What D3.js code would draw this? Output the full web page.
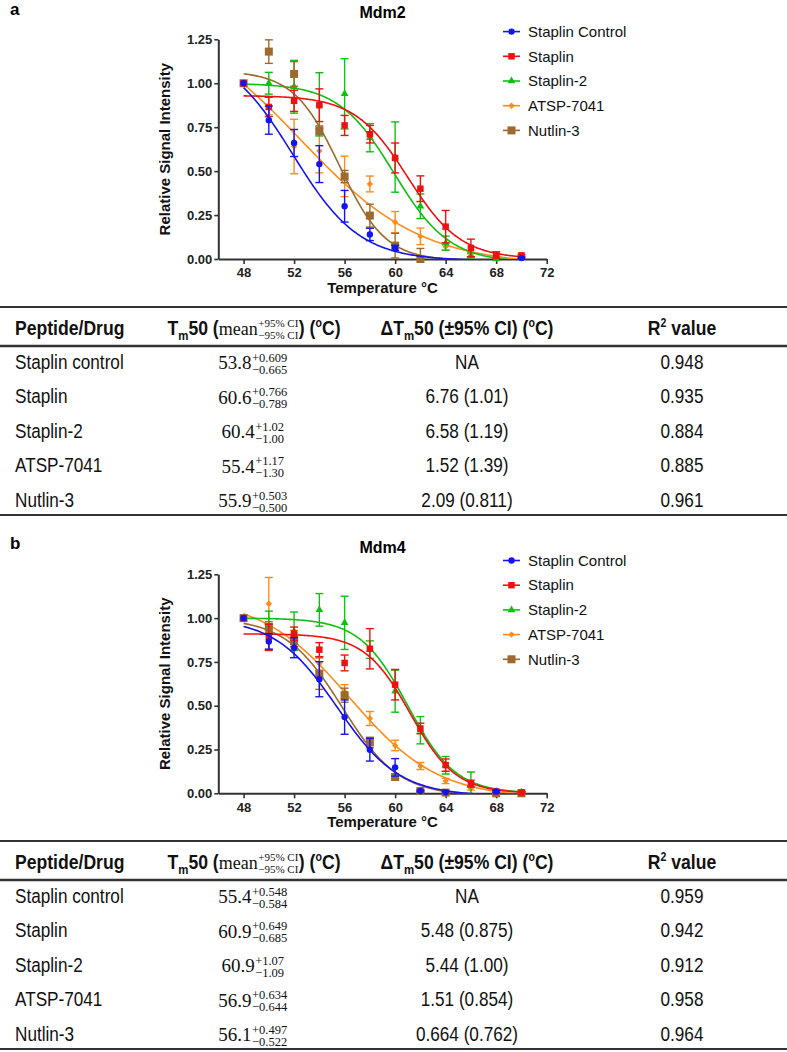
<!DOCTYPE html>
<html><head><meta charset="utf-8">
<script src="https://cdn.jsdelivr.net/npm/d3@7"></script>
<style>
body{margin:0;background:#fff;}
</style></head><body>
<svg id="fig" width="787" height="1052" font-family="Arial, 'Liberation Sans', sans-serif"></svg>
<script>
// ---------- DATA ----------
const temps = [48,50,52,54,56,58,60,62,64,66,68,70];
const seriesNames = ["Staplin Control","Staplin","Staplin-2","ATSP-7041","Nutlin-3"];
const seriesColors = ["#1414f0","#f01010","#10c010","#ff8c1a","#9c6a2e"];
const seriesShapes = ["circle","squareS","triangle","diamond","squareL"];
const drawOrder = [3,2,4,1,0];
const yTicks = [0,0.25,0.5,0.75,1.0,1.25];
const xTicks = [48,52,56,60,64,68,72];

// Mdm2 (panel a): mean and error per temperature (null = not shown)
const mdm2Control   = [1.00,0.79,0.66,0.54,0.30,0.14,0.063,null,null,null,null,0.005];
const mdm2ControlE  = [0,0.08,0.077,0.105,0.09,0.035,0.015,null,null,null,null,0.005];
const mdm2Staplin   = [1.00,0.865,0.90,0.875,0.76,0.71,0.575,0.40,0.184,0.063,0.021,0.021];
const mdm2StaplinE  = [0,0.055,0.06,0.093,0.057,0.05,0.085,0.073,0.092,0.05,0.02,0.005];
const mdm2Staplin2  = [1.00,1.00,0.98,0.88,0.94,0.69,0.58,0.30,0.09,0.015,0.0,null];
const mdm2Staplin2E = [0,0.062,0.15,0.18,0.2,0.08,0.2,0.07,0.04,0.02,0.01,null];
const mdm2ATSP      = [1.00,0.87,0.64,0.615,0.47,0.427,0.21,0.129,0.07,0.02,0.006,null];
const mdm2ATSPE     = [0,0.05,0.155,0.125,0.115,0.045,0.06,0.047,0.02,0.01,0.01,null];
const mdm2Nutlin    = [1.00,1.18,1.053,0.732,0.469,0.247,0.076,0.0,null,null,null,null];
const mdm2NutlinE   = [0,0.067,0.07,0.025,0.035,0.065,0.07,0.06,null,null,null,null];
// fitted Boltzmann parameters [top, bottom, midpoint, slope] per series
const mdm2FitTop    = [1.2,0.93,1.0,1.4,1.07];
const mdm2FitBottom = [-0.01,0,-0.02,-0.04,-0.01];
const mdm2FitMid    = [51.9,61.0,59.9,52.5,55.6];
const mdm2FitSlope  = [2.64,2.1,2.2,4.8,1.82];

// Mdm4 (panel b)
const mdm4Control   = [1.00,0.867,0.831,0.651,0.435,0.249,0.148,0.013,0.006,null,0.01,null];
const mdm4ControlE  = [0,0.044,0.057,0.1,0.098,0.065,0.05,0.005,0.005,null,0.005,null];
const mdm4Staplin   = [1.00,0.89,0.911,0.82,0.744,0.825,0.62,0.37,0.161,0.055,0.01,0.005];
const mdm4StaplinE  = [0,0.075,0.038,0.04,0.045,0.115,0.087,0.03,0.035,0.02,0.01,0.005];
const mdm4Staplin2  = [1.00,0.93,0.925,1.047,0.973,0.82,0.583,0.36,0.16,0.047,0.01,0.006];
const mdm4Staplin2E = [0,0.11,0.11,0.093,0.152,0.05,0.12,0.078,0.05,0.075,0.01,0.005];
const mdm4ATSP      = [1.00,1.082,0.88,0.74,0.58,0.427,0.273,0.156,0.07,0.028,0.004,0.002];
const mdm4ATSPE     = [0,0.15,0.05,0.04,0.04,0.04,0.03,0.02,0.015,0.01,0.005,0.005];
const mdm4Nutlin    = [1.00,0.949,0.867,0.683,0.56,0.29,0.093,0.013,0.004,null,0.0,0.0];
const mdm4NutlinE   = [0,0.03,0.03,0.09,0.04,0.03,0.01,0.005,0.005,null,0.005,0.005];
const mdm4FitTop    = [1.0,0.91,1.0,1.12,1.0];
const mdm4FitBottom = [-0.015,0,0,-0.03,-0.015];
const mdm4FitMid    = [55.4,61.2,61.0,56.4,55.8];
const mdm4FitSlope  = [2.46,1.8,1.9,3.5,2.24];

// Tables
const peptides = ["Staplin control","Staplin","Staplin-2","ATSP-7041","Nutlin-3"];
const mdm2Tm50   = ["53.8","60.6","60.4","55.4","55.9"];
const mdm2Tm50Up = ["+0.609","+0.766","+1.02","+1.17","+0.503"];
const mdm2Tm50Lo = ["\u22120.665","\u22120.789","\u22121.00","\u22121.30","\u22120.500"];
const mdm2Delta  = ["NA","6.76 (1.01)","6.58 (1.19)","1.52 (1.39)","2.09 (0.811)"];
const mdm2R2     = ["0.948","0.935","0.884","0.885","0.961"];
const mdm4Tm50   = ["55.4","60.9","60.9","56.9","56.1"];
const mdm4Tm50Up = ["+0.548","+0.649","+1.07","+0.634","+0.497"];
const mdm4Tm50Lo = ["\u22120.584","\u22120.685","\u22121.09","\u22120.644","\u22120.522"];
const mdm4Delta  = ["NA","5.48 (0.875)","5.44 (1.00)","1.51 (0.854)","0.664 (0.762)"];
const mdm4R2     = ["0.959","0.942","0.912","0.958","0.964"];

// ---------- DRAWING ----------
const svg = d3.select("#fig");
const axisColor = "#333";
const serif = '"Liberation Serif","DejaVu Serif",serif';
const sans = 'Arial,"Liberation Sans",sans-serif';
const narrowScale = 0.88;

function symbolFor(shape){
  switch(shape){
    case "circle": return d3.symbol(d3.symbolCircle, Math.PI*3.2*3.2);
    case "squareS": return d3.symbol(d3.symbolSquare, 6.5*6.5);
    case "squareL": return d3.symbol(d3.symbolSquare, 8*8);
    case "triangle": return d3.symbol(d3.symbolTriangle, 26);
    case "diamond": return d3.symbol(d3.symbolDiamond2 || d3.symbolDiamond, 26);
  }
}

let clipId = 0;
function drawPanel(cfg){
  const g = svg.append("g");
  const x = d3.scaleLinear().domain([46,72]).range([218.3,546.7]);
  const y = d3.scaleLinear().domain([0,1.25]).range([cfg.bottom,cfg.top]);

  g.append("text").attr("x",10).attr("y",cfg.labelY).attr("font-size",17).attr("font-weight","bold").text(cfg.label);
  g.append("text").attr("x",382.5).attr("y",cfg.titleY).attr("text-anchor","middle").attr("font-size",16).attr("font-weight","bold").text(cfg.title);

  const ya = g.append("g").attr("transform",`translate(${x(46)},0)`)
    .call(d3.axisLeft(y).tickValues(yTicks).tickFormat(d3.format(".2f")).tickSize(4).tickPadding(2).tickSizeOuter(0));
  const xa = g.append("g").attr("transform",`translate(0,${y(0)})`)
    .call(d3.axisBottom(x).tickValues(xTicks).tickFormat(d3.format("d")).tickSize(5).tickPadding(4).tickSizeOuter(0));
  [ya,xa].forEach(a=>{
    a.attr("font-family",sans);
    a.select(".domain").attr("stroke",axisColor).attr("stroke-width",2);
    a.selectAll(".tick line").attr("stroke",axisColor).attr("stroke-width",1.6);
    a.selectAll(".tick text").attr("font-size",13).attr("font-weight","bold").attr("fill","#222");
  });

  g.append("text").attr("transform",`translate(170,${(cfg.top+cfg.bottom)/2}) rotate(-90)`)
    .attr("text-anchor","middle").attr("font-size",15).attr("font-weight","bold").attr("fill","#111")
    .text("Relative Signal Intensity");
  g.append("text").attr("x",382.5).attr("y",cfg.xTitleY).attr("text-anchor","middle")
    .attr("font-size",15).attr("font-weight","bold").attr("fill","#111").text("Temperature \u00B0C");

  const cid = "clip"+(clipId++);
  svg.append("defs").append("clipPath").attr("id",cid).append("rect")
    .attr("x",x(46)).attr("y",0).attr("width",x(72)-x(46)+10).attr("height",y(0));

  const curveXs = d3.range(48,70.001,0.1);
  drawOrder.forEach(si=>{
    const col = seriesColors[si];
    const vals = cfg.values[si], errs = cfg.errors[si];
    const T = cfg.fitTop[si], B = cfg.fitBottom[si], M = cfg.fitMid[si], S = cfg.fitSlope[si];
    const sg = g.append("g");
    const line = d3.line().x(d=>x(d)).y(d=>y(B + (T-B)/(1+Math.exp((d-M)/S))));
    sg.append("path").attr("clip-path",`url(#${cid})`).attr("d",line(curveXs))
      .attr("fill","none").attr("stroke",col).attr("stroke-width",1.6);
    const pts = temps.map((t,i)=>({t,v:vals[i],e:errs[i]})).filter(d=>d.v!==null);
    const eb = sg.append("g").attr("clip-path",`url(#${cid})`);
    pts.filter(d=>d.e>0.004).forEach(d=>{
      const cx = x(d.t);
      eb.append("line").attr("x1",cx).attr("x2",cx).attr("y1",y(d.v+d.e)).attr("y2",y(d.v-d.e))
        .attr("stroke",col).attr("stroke-width",1.4);
      [d.v+d.e,d.v-d.e].forEach(v=>{
        eb.append("line").attr("x1",cx-4).attr("x2",cx+4).attr("y1",y(v)).attr("y2",y(v))
          .attr("stroke",col).attr("stroke-width",1.4);
      });
    });
    sg.selectAll("path.pt").data(pts).join("path").attr("class","pt")
      .attr("transform",d=>`translate(${x(d.t)},${y(d.v)})`)
      .attr("d",symbolFor(seriesShapes[si])).attr("fill",col);
  });

  seriesNames.forEach((n,i)=>{
    const ly = cfg.legendY + i*24.7;
    const lg = g.append("g");
    lg.append("line").attr("x1",503).attr("x2",520).attr("y1",ly).attr("y2",ly)
      .attr("stroke",seriesColors[i]).attr("stroke-width",1.6);
    lg.append("path").attr("transform",`translate(511.5,${ly})`).attr("d",symbolFor(seriesShapes[i])).attr("fill",seriesColors[i]);
    lg.append("text").attr("x",528).attr("y",ly).attr("dy","0.35em").attr("font-size",15).attr("fill","#111").text(n);
  });
}

// Lays out pieces of text side by side; sans pieces are horizontally condensed
function richText(g, anchorX, baseY, items, align){
  let cur = 0; const nodes = [];
  items.forEach(it=>{
    const isSerif = it.font===serif;
    const sx = isSerif ? 1 : narrowScale;
    const style = t=>t.style("font-family",it.font||sans).attr("font-size",it.size)
      .attr("font-weight",it.bold?"bold":"normal").attr("fill","#111")
      .attr("xml:space","preserve").style("white-space","pre").attr("x",0);
    if(it.stack){
      const a = style(g.append("text").attr("y",baseY+it.supDy).text(it.stack[0]));
      const b = style(g.append("text").attr("y",baseY+it.subDy).text(it.stack[1]));
      const w = Math.max(a.node().getComputedTextLength(), b.node().getComputedTextLength())*sx;
      nodes.push({els:[a,b],x:cur+(it.pad||0),sx}); cur += w + (it.pad||0)*2;
    } else {
      const t = style(g.append("text").attr("y",baseY+(it.dy||0)).text(it.text));
      nodes.push({els:[t],x:cur,sx}); cur += t.node().getComputedTextLength()*sx;
    }
  });
  const x0 = align==="middle" ? anchorX - cur/2 : anchorX;
  nodes.forEach(n=>n.els.forEach(e=>e.attr("transform",`translate(${x0+n.x},0) scale(${n.sx},1)`)));
}

function drawTable(cfg){
  const g = svg.append("g");
  const rule = (yy,w)=>g.append("line").attr("x1",0).attr("x2",787).attr("y1",yy).attr("y2",yy)
    .attr("stroke","#333").attr("stroke-width",w);
  rule(cfg.topRule,2); rule(cfg.headRule,2.6); rule(cfg.bottomRule,2);
  const hb = cfg.headBase, H = 20;
  richText(g,15,hb,[{text:"Peptide/Drug",bold:true,size:H}],"start");
  richText(g,254,hb,[
    {text:"T",bold:true,size:H},{text:"m",bold:true,size:13,dy:5},{text:"50 (",bold:true,size:H},
    {text:"mean",font:serif,size:18},{stack:["+95% CI","\u221295% CI"],font:serif,size:11,supDy:-8,subDy:4,pad:0.5},
    {text:") (",bold:true,size:H},{text:"o",bold:true,size:12,dy:-8},{text:"C)",bold:true,size:H}],"middle");
  richText(g,467,hb,[
    {text:"\u0394T",bold:true,size:H},{text:"m",bold:true,size:13,dy:5},{text:"50 (\u00B195% CI) (",bold:true,size:H},
    {text:"o",bold:true,size:12,dy:-8},{text:"C)",bold:true,size:H}],"middle");
  richText(g,682,hb,[{text:"R",bold:true,size:H},{text:"2",bold:true,size:12,dy:-8},{text:" value",bold:true,size:H}],"middle");
  peptides.forEach((p,i)=>{
    const by = cfg.rowBase + i*cfg.rowStep;
    richText(g,15,by,[{text:p,size:19.5}],"start");
    richText(g,253,by,[{text:cfg.tm[i],font:serif,size:19},
      {stack:[cfg.up[i],cfg.lo[i]],font:serif,size:12.5,supDy:-7.5,subDy:4.5,pad:0.5}],"middle");
    richText(g,467,by,[{text:cfg.delta[i],size:19.5}],"middle");
    richText(g,682,by,[{text:cfg.r2[i],size:19.5}],"middle");
  });
}

drawPanel({label:"a",labelY:15,title:"Mdm2",titleY:18.3,top:39.3,bottom:259,xTitleY:293,legendY:31.6,
  values:[mdm2Control,mdm2Staplin,mdm2Staplin2,mdm2ATSP,mdm2Nutlin],
  errors:[mdm2ControlE,mdm2StaplinE,mdm2Staplin2E,mdm2ATSPE,mdm2NutlinE],
  fitTop:mdm2FitTop,fitBottom:mdm2FitBottom,fitMid:mdm2FitMid,fitSlope:mdm2FitSlope});
drawTable({topRule:307,headRule:346,bottomRule:515,headBase:335,rowBase:369,rowStep:34.5,
  tm:mdm2Tm50,up:mdm2Tm50Up,lo:mdm2Tm50Lo,delta:mdm2Delta,r2:mdm2R2});
drawPanel({label:"b",labelY:549,title:"Mdm4",titleY:553,top:574.3,bottom:793.3,xTitleY:827,legendY:560.5,
  values:[mdm4Control,mdm4Staplin,mdm4Staplin2,mdm4ATSP,mdm4Nutlin],
  errors:[mdm4ControlE,mdm4StaplinE,mdm4Staplin2E,mdm4ATSPE,mdm4NutlinE],
  fitTop:mdm4FitTop,fitBottom:mdm4FitBottom,fitMid:mdm4FitMid,fitSlope:mdm4FitSlope});
drawTable({topRule:841,headRule:880,bottomRule:1049,headBase:869,rowBase:903,rowStep:34.5,
  tm:mdm4Tm50,up:mdm4Tm50Up,lo:mdm4Tm50Lo,delta:mdm4Delta,r2:mdm4R2});
</script>
</body></html>
